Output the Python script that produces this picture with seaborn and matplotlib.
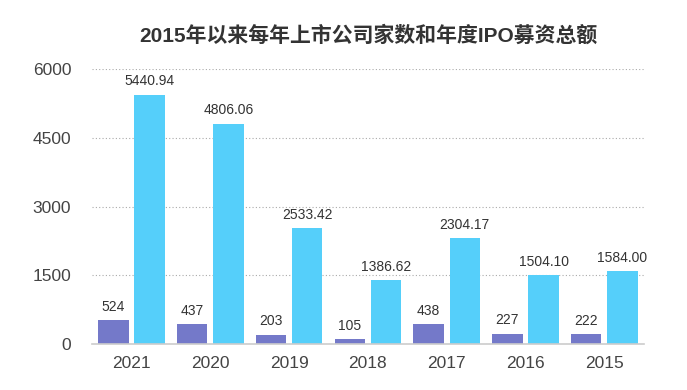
import matplotlib
matplotlib.use("Agg")
import matplotlib.pyplot as plt
import seaborn as sns
import pandas as pd

years = ["2021", "2020", "2019", "2018", "2017", "2016", "2015"]
ipo_count = [524, 437, 203, 105, 438, 227, 222]
ipo_amount = [5440.94, 4806.06, 2533.42, 1386.62, 2304.17, 1504.10, 1584.00]
yticks = [0, 1500, 3000, 4500, 6000]

sns.set_theme(style="white")
plt.rcParams["font.family"] = ["Liberation Sans", "Noto Sans CJK SC", "DejaVu Sans"]

df = pd.DataFrame({
    "year": years * 2,
    "value": ipo_count + ipo_amount,
    "series": ["count"] * len(years) + ["amount"] * len(years),
})

fig = plt.figure(figsize=(6.87, 3.9), dpi=100)
ax = fig.add_axes([0.134, 0.118, 0.803, 0.705])

sns.barplot(data=df, x="year", y="value", hue="series", order=years,
            palette=["#7479c9", "#55cffa"], saturation=1, width=0.92, gap=0.16,
            linewidth=0, legend=False, ax=ax)

# value labels
for container, fmt in zip(ax.containers, ["{:.0f}", "{:.2f}"]):
    labels = [fmt.format(v) for v in container.datavalues]
    ax.bar_label(container, labels=labels, padding=4.5, fontsize=10, color="#333333")

ax.set_ylim(0, 6000)
ax.set_xlim(-0.5, len(years) - 0.5)
ax.set_yticks(yticks)
ax.yaxis.grid(True, linestyle=(0, (1, 2)), color="#aaaaaa", linewidth=0.8)
ax.set_axisbelow(True)
for s in ["top", "right", "left"]:
    ax.spines[s].set_visible(False)
ax.spines["bottom"].set_color("#cccccc")
ax.spines["bottom"].set_linewidth(1.2)
ax.tick_params(axis="both", length=0, labelsize=12.5, labelcolor="#444444")
ax.tick_params(axis="y", pad=15)
ax.tick_params(axis="x", pad=9)
ax.set_xlabel("")
ax.set_ylabel("")

fig.text(0.536, 0.91, "2015年以来每年上市公司家数和年度IPO募资总额",
         ha="center", va="center", fontsize=15, fontweight="bold", color="#333333")

fig.savefig("out.png", dpi=100)
